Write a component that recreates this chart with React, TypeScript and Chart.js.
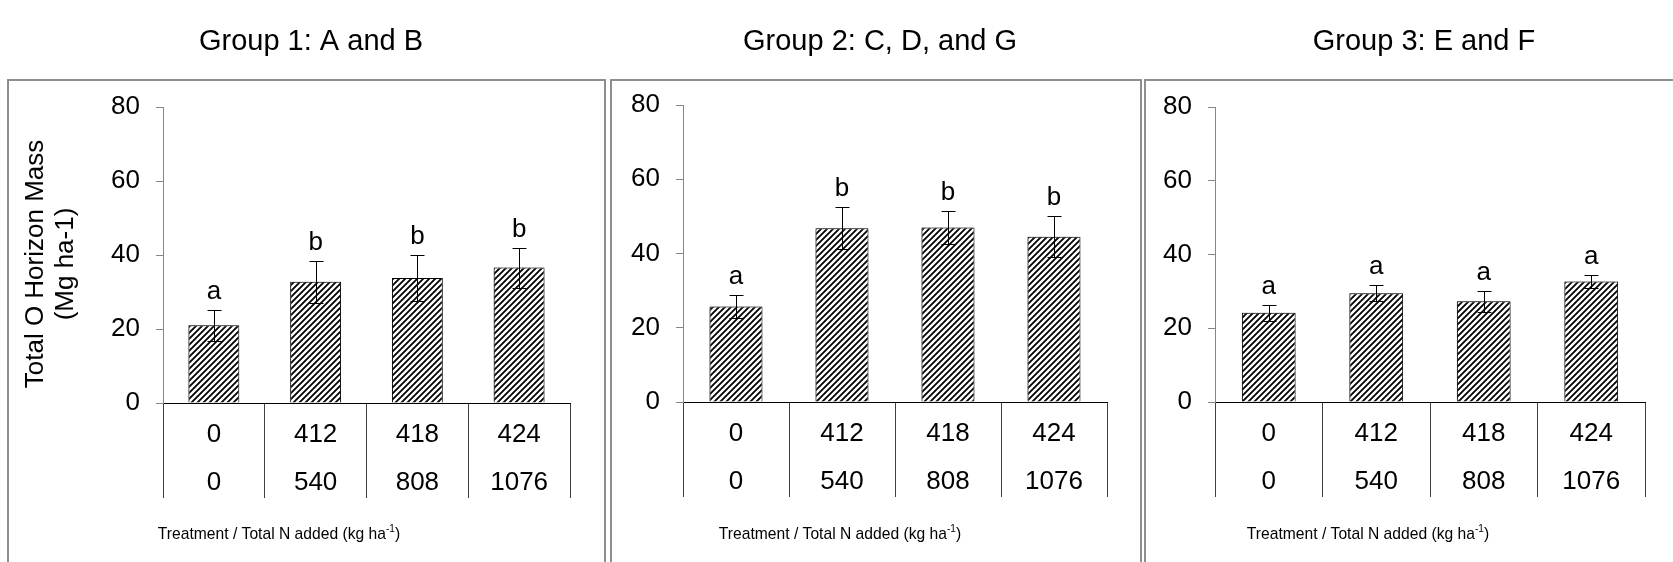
import { useEffect, useRef } from "react";
import { Chart, registerables } from "chart.js";

Chart.register(...registerables);

// ---------- data ----------
const treatments = ["0", "412", "418", "424"];
const nAdded = ["0", "540", "808", "1076"];
const groupTitles = ["Group 1: A and B", "Group 2: C, D, and G", "Group 3: E and F"];

const group1Mean = [21.0, 32.8, 33.8, 36.6];
const group1Err = [4.2, 5.7, 6.1, 5.4];
const group1Letters = ["a", "b", "b", "b"];

const group2Mean = [25.7, 46.8, 47.0, 44.5];
const group2Err = [3.2, 5.6, 4.5, 5.5];
const group2Letters = ["a", "b", "b", "b"];

const group3Mean = [24.2, 29.5, 27.3, 32.7];
const group3Err = [2.1, 2.2, 2.8, 1.8];
const group3Letters = ["a", "a", "a", "a"];

const yMin = 0;
const yMax = 80;
const yStep = 20;
const yTitleLines = ["Total O Horizon Mass", "(Mg ha-1)"];
const xTitleMain = "Treatment / Total N added (kg ha";
const xTitleSup = "-1";
const xTitleEnd = ")";

// ---------- layout ----------
const W = 1673;
const H = 562;
const FONT = "'Liberation Sans', Arial, Helvetica, sans-serif";

type Panel = {
  frame: [number, number];
  titleX: number;
  plot: { left: number; right: number; top: number; bottom: number };
  xTitleX: number;
  yTitle: boolean;
};

const PANELS: Panel[] = [
  { frame: [8, 605], titleX: 311, plot: { left: 163, right: 570, top: 107, bottom: 403 }, xTitleX: 279, yTitle: true },
  { frame: [611, 1141], titleX: 880, plot: { left: 683, right: 1107, top: 105, bottom: 402 }, xTitleX: 840, yTitle: false },
  { frame: [1145, 1700], titleX: 1424, plot: { left: 1215, right: 1645, top: 107, bottom: 402 }, xTitleX: 1368, yTitle: false },
];

const groupMeans = [group1Mean, group2Mean, group3Mean];
const groupErrs = [group1Err, group2Err, group3Err];
const groupLetters = [group1Letters, group2Letters, group3Letters];

function makeHatch(): CanvasPattern | string {
  const c = document.createElement("canvas");
  c.width = 6;
  c.height = 6;
  const g = c.getContext("2d");
  if (!g) return "#888";
  g.fillStyle = "#fff";
  g.fillRect(0, 0, 6, 6);
  g.strokeStyle = "#000";
  g.lineWidth = 1.8;
  g.beginPath();
  g.moveTo(-1, 7);
  g.lineTo(7, -1);
  g.moveTo(-1, 1);
  g.lineTo(1, -1);
  g.moveTo(5, 7);
  g.lineTo(7, 5);
  g.stroke();
  return g.createPattern(c, "repeat") || "#888";
}

function makeChart(canvas: HTMLCanvasElement, idx: number): Chart {
  const p = PANELS[idx];
  const means = groupMeans[idx];
  const errs = groupErrs[idx];
  const letters = groupLetters[idx];
  const title = groupTitles[idx];

  const panelPlugin = {
    id: "panelDecor" + idx,
    beforeDatasetsDraw(chart: any) {
      const ctx = chart.ctx;
      ctx.save();
      ctx.shadowColor = "rgba(0,0,0,0.35)";
      ctx.shadowBlur = 4;
      ctx.shadowOffsetX = -2;
      ctx.shadowOffsetY = 0;
    },
    afterDatasetsDraw(chart: any) {
      const ctx = chart.ctx;
      ctx.restore();
      const meta = chart.getDatasetMeta(0);
      const ys = chart.scales.y;
      ctx.save();
      ctx.strokeStyle = "#000";
      ctx.lineWidth = 1;
      ctx.fillStyle = "#000";
      ctx.font = `26px ${FONT}`;
      ctx.textAlign = "center";
      ctx.textBaseline = "alphabetic";
      meta.data.forEach((bar: any, i: number) => {
        const x = Math.round(bar.x) + 0.5;
        const top = Math.round(ys.getPixelForValue(means[i] + errs[i])) + 0.5;
        const bot = Math.round(ys.getPixelForValue(means[i] - errs[i])) + 0.5;
        const cap = 7;
        ctx.beginPath();
        ctx.moveTo(x, top);
        ctx.lineTo(x, bot);
        ctx.moveTo(x - cap, top);
        ctx.lineTo(x + cap, top);
        ctx.moveTo(x - cap, bot);
        ctx.lineTo(x + cap, bot);
        ctx.stroke();
        ctx.fillText(letters[i], bar.x, top - 12);
      });
      ctx.restore();
    },
    afterDraw(chart: any) {
      const ctx = chart.ctx;
      ctx.save();
      // panel frame
      ctx.strokeStyle = "#8e8e8e";
      ctx.lineWidth = 2;
      ctx.strokeRect(p.frame[0], 80, p.frame[1] - p.frame[0], 600);
      // panel title
      ctx.fillStyle = "#000";
      ctx.textAlign = "center";
      ctx.textBaseline = "alphabetic";
      ctx.font = `29px ${FONT}`;
      ctx.fillText(title, p.titleX, 50);
      // x title with superscript
      const sx = 0.92;
      const mainFont = `17px ${FONT}`;
      const supFont = `11px ${FONT}`;
      ctx.font = mainFont;
      const w1 = ctx.measureText(xTitleMain).width;
      const w3 = ctx.measureText(xTitleEnd).width;
      ctx.font = supFont;
      const w2 = ctx.measureText(xTitleSup).width;
      const total = (w1 + w2 + w3) * sx;
      const base = 539;
      ctx.save();
      ctx.translate(p.xTitleX - total / 2, base);
      ctx.scale(sx, 1);
      ctx.textAlign = "left";
      ctx.font = mainFont;
      ctx.fillText(xTitleMain, 0, 0);
      ctx.font = supFont;
      ctx.fillText(xTitleSup, w1, -7);
      ctx.font = mainFont;
      ctx.fillText(xTitleEnd, w1 + w2, 0);
      ctx.restore();
      // y title
      if (p.yTitle) {
        ctx.font = `26px ${FONT}`;
        ctx.textAlign = "center";
        ctx.textBaseline = "middle";
        const xs = [36, 66];
        yTitleLines.forEach((line, li) => {
          ctx.save();
          ctx.translate(xs[li], 264);
          ctx.rotate(-Math.PI / 2);
          ctx.fillText(line, 0, 0);
          ctx.restore();
        });
      }
      ctx.restore();
    },
  };

  return new Chart(canvas, {
    type: "bar",
    data: {
      labels: treatments.map((t, i) => [t, nAdded[i]]),
      datasets: [
        {
          data: means,
          backgroundColor: makeHatch() as any,
          borderColor: "#000",
          borderWidth: 1,
          barPercentage: 0.5,
          categoryPercentage: 1,
        },
      ],
    },
    options: {
      animation: false,
      responsive: false,
      devicePixelRatio: 1,
      events: [],
      layout: { padding: { left: 0, top: p.plot.top, right: W - p.plot.right, bottom: 0 } },
      plugins: {
        legend: { display: false },
        tooltip: { enabled: false },
        title: { display: false },
      },
      scales: {
        x: {
          type: "category",
          offset: true,
          grid: {
            offset: true,
            drawOnChartArea: false,
            drawTicks: true,
            tickLength: 95,
            color: "#404040",
            lineWidth: 1,
          },
          border: { display: true, color: "#000", width: 1 },
          ticks: {
            autoSkip: false,
            maxRotation: 0,
            minRotation: 0,
            padding: -87,
            color: "#000",
            font: { family: FONT, size: 26, lineHeight: 48 / 26 },
          },
          afterFit: (s: any) => {
            s.height = H - p.plot.bottom;
          },
        },
        y: {
          min: yMin,
          max: yMax,
          ticks: { stepSize: yStep, padding: 16, color: "#000", font: { family: FONT, size: 26 } },
          grid: { drawOnChartArea: false, drawTicks: true, tickLength: 7, color: "#868686" },
          border: { display: true, color: "#868686", width: 1 },
          afterFit: (s: any) => {
            s.width = p.plot.left;
          },
        },
      },
    } as any,
    plugins: [panelPlugin],
  });
}

export default function App() {
  const r0 = useRef<HTMLCanvasElement>(null);
  const r1 = useRef<HTMLCanvasElement>(null);
  const r2 = useRef<HTMLCanvasElement>(null);
  const refs = [r0, r1, r2];

  useEffect(() => {
    const charts: Chart[] = [];
    refs.forEach((r, i) => {
      if (r.current) charts.push(makeChart(r.current, i));
    });
    return () => charts.forEach((c) => c.destroy());
  }, []);

  return (
    <div style={{ position: "fixed", left: 0, top: 0, width: W, height: H, background: "#fff", overflow: "hidden" }}>
      {refs.map((r, i) => (
        <canvas
          key={i}
          ref={r}
          width={W}
          height={H}
          style={{ position: "absolute", left: 0, top: 0, width: W, height: H }}
        />
      ))}
    </div>
  );
}
